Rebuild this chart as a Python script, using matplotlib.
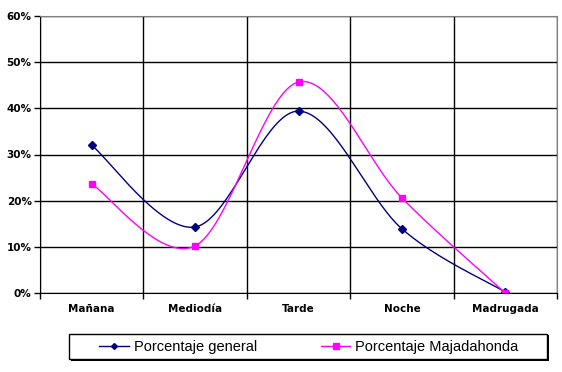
import numpy as np
import matplotlib.pyplot as plt
from matplotlib.patches import Rectangle

categories = ['Mañana', 'Mediodía', 'Tarde', 'Noche', 'Madrugada']
general = [32.0, 14.3, 39.4, 13.9, 0.2]
majadahonda = [23.6, 10.2, 45.7, 20.6, 0.0]
yticks = [0, 10, 20, 30, 40, 50, 60]


def smooth(x, y, n=40):
    # Excel-like smoothed line: cubic bezier with catmull-rom control points
    x = np.asarray(x, float)
    y = np.asarray(y, float)
    px = np.concatenate([[x[0]], x, [x[-1]]])
    py = np.concatenate([[y[0]], y, [y[-1]]])
    t = np.linspace(0, 1, n)
    xs, ys = [], []
    for i in range(1, len(x)):
        p0 = np.array([px[i - 1], py[i - 1]])
        p1 = np.array([px[i], py[i]])
        p2 = np.array([px[i + 1], py[i + 1]])
        p3 = np.array([px[i + 2], py[i + 2]])
        c1 = p1 + (p2 - p0) / 6
        c2 = p2 - (p3 - p1) / 6
        pts = (np.outer((1 - t) ** 3, p1) + np.outer(3 * (1 - t) ** 2 * t, c1)
               + np.outer(3 * (1 - t) * t ** 2, c2) + np.outer(t ** 3, p2))
        xs.extend(pts[:, 0])
        ys.extend(pts[:, 1])
    return np.array(xs), np.array(ys)


W, H = 562, 372
fig = plt.figure(figsize=(W / 100, H / 100), dpi=100)
ax = fig.add_axes([40 / W, 79 / H, 517 / W, 277 / H])

x = np.arange(len(categories))
sx, sy = smooth(x, general)
ax.plot(sx, sy, color='#000080', lw=1)
ax.plot(x, general, 'D', color='#000080', ms=4.5, ls='none')
sx, sy = smooth(x, majadahonda)
ax.plot(sx, sy, color='#ff00ff', lw=1)
ax.plot(x, majadahonda, 's', color='#ff00ff', ms=5, ls='none')

ax.set_xlim(-0.5, len(categories) - 0.5)
ax.set_ylim(0, 60)
ax.set_yticks(yticks)
ax.set_yticklabels([f'{v}%' for v in yticks], fontsize=7.5, fontweight='bold')
ax.set_xticks(np.arange(len(categories) + 1) - 0.5)
ax.set_xticklabels([])
ax.set_xticks(x, minor=True)
ax.set_xticklabels(categories, minor=True, fontsize=7.5, fontweight='bold')
ax.tick_params(axis='x', which='minor', length=0, pad=8)
ax.tick_params(axis='both', which='major', length=4, width=1, color='black')
ax.tick_params(axis='y', pad=2)
ax.grid(True, which='major', color='black', lw=1)
ax.set_axisbelow(True)
for s in ['top', 'right']:
    ax.spines[s].set_color('#808080')
for s in ['left', 'bottom']:
    ax.spines[s].set_color('black')

# legend box with shadow, drawn by hand
fig.patches.append(Rectangle((71 / W, 1 - 361 / H), 478 / W, 26 / H,
                             transform=fig.transFigure, facecolor='black',
                             edgecolor='none', zorder=1))
fig.patches.append(Rectangle((69 / W, 1 - 359 / H), 478 / W, 25 / H,
                             transform=fig.transFigure, facecolor='white',
                             edgecolor='black', lw=1, zorder=2))

h1, = ax.plot([], [], '-D', color='#000080', ms=3, lw=1)
h2, = ax.plot([], [], '-s', color='#ff00ff', ms=4, lw=1)
leg = fig.legend([h1, h2], ['Porcentaje general', 'Porcentaje Majadahonda'],
                 loc='center', bbox_to_anchor=(309 / W, 1 - 347 / H), ncol=2,
                 frameon=False, prop={'family': 'Liberation Sans', 'size': 10.5},
                 columnspacing=4.4, handlelength=2.0, handletextpad=0.35)
leg.set_zorder(3)

fig.savefig('out.png', dpi=100)
